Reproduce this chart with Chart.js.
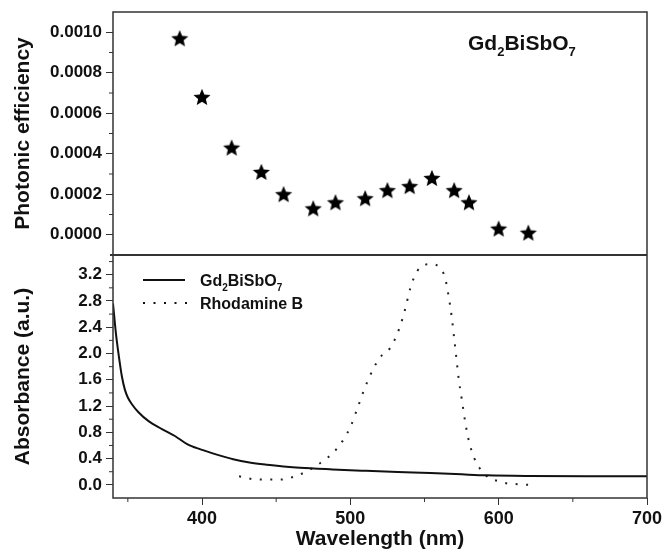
<!DOCTYPE html>
<html>
<head>
<meta charset="utf-8">
<script src="https://cdn.jsdelivr.net/npm/chart.js@4"></script>
<style>
  html, body { margin: 0; padding: 0; background: #fff; }
  #wrap { position: relative; width: 664px; height: 553px; }
</style>
</head>
<body>
<div id="wrap"><canvas id="spectraChart"></canvas></div>
<script>
// top panel: photonic efficiency vs wavelength
const starWavelength = [385, 400, 420, 440, 455, 475, 490, 510, 525, 540, 555, 570, 580, 600, 620];
const photonicEfficiency = [0.00097, 0.00068, 0.00043, 0.00031, 0.00020, 0.00013, 0.00016, 0.00018,
  0.00022, 0.00024, 0.00028, 0.00022, 0.00016, 0.00003, 0.00001];

// bottom panel: absorbance spectra
const gdWavelength = [340, 342, 344, 346, 348, 350, 353, 357, 364, 373, 382, 390, 399, 410, 421, 432,
  444, 455, 466, 488, 509, 532, 554, 575, 592, 620, 660, 700];
const gdAbsorbance = [2.76, 2.30, 1.95, 1.65, 1.45, 1.33, 1.22, 1.11, 0.97, 0.85, 0.74, 0.62, 0.54, 0.46, 0.39, 0.34,
  0.305, 0.28, 0.26, 0.235, 0.215, 0.195, 0.18, 0.16, 0.145, 0.135, 0.13, 0.13];

const rhbWavelength = [425, 438, 452, 465, 479, 492, 500, 505, 510, 516, 520, 527, 533, 537, 540.5, 543,
  547, 554, 561, 564, 566.5, 568.5, 570, 571.5, 573, 575, 577, 579.5, 583.5, 587, 593, 600, 606, 613, 620];
const rhbAbsorbance = [0.13, 0.08, 0.08, 0.15, 0.32, 0.58, 0.88, 1.18, 1.49, 1.79, 1.94, 2.09, 2.38, 2.68, 3.00, 3.16,
  3.31, 3.36, 3.29, 3.14, 2.84, 2.53, 2.23, 1.93, 1.62, 1.32, 1.02, 0.71, 0.41, 0.26, 0.115, 0.055, 0.02, 0.01, 0.0];

// ticks
const xTicks = [400, 500, 600, 700];
const xMinorTicks = [350, 450, 550, 650];
const effTicks = [0, 0.0002, 0.0004, 0.0006, 0.0008, 0.0010];
const effMinorTicks = [0.0001, 0.0003, 0.0005, 0.0007, 0.0009];
const absTicks = [0, 0.4, 0.8, 1.2, 1.6, 2.0, 2.4, 2.8, 3.2];
const absMinorTicks = [0.2, 0.6, 1.0, 1.4, 1.8, 2.2, 2.6, 3.0, 3.4];

const FONT = '"Liberation Sans", Arial, sans-serif';
const gdFormula = [['Gd', false], ['2', true], ['BiSbO', false], ['7', true]];

function makeStar(r) {
  const c = document.createElement('canvas');
  const size = Math.ceil(r * 2 + 2);
  c.width = c.height = size;
  const g = c.getContext('2d');
  g.fillStyle = '#000';
  g.beginPath();
  for (let i = 0; i < 10; i++) {
    const rad = i % 2 ? r * 0.45 : r;
    const a = -Math.PI / 2 + i * Math.PI / 5;
    g.lineTo(size / 2 + rad * Math.cos(a), size / 2 + 0.8 + rad * Math.sin(a));
  }
  g.closePath();
  g.fill();
  return c;
}

function drawFormula(ctx, parts, x, y, size) {
  let cx = x;
  ctx.textAlign = 'left';
  ctx.textBaseline = 'alphabetic';
  parts.forEach(([t, sub]) => {
    const fs = sub ? Math.round(size * 0.62) : size;
    ctx.font = 'bold ' + fs + 'px ' + FONT;
    ctx.fillText(t, cx, sub ? y + size * 0.3 : y);
    cx += ctx.measureText(t).width;
  });
}

const pairs = (xs, ys) => xs.map((x, i) => ({x, y: ys[i]}));

const frameAndLabels = {
  id: 'frameAndLabels',
  afterDraw(chart) {
    const {ctx, chartArea: a, scales} = chart;
    const top = scales.yTop, bot = scales.yBot, x = scales.x;
    ctx.save();
    ctx.strokeStyle = '#333';
    ctx.lineWidth = 1.5;
    ctx.strokeRect(a.left, a.top, a.right - a.left, a.bottom - a.top);
    ctx.lineWidth = 2;
    ctx.beginPath();
    ctx.moveTo(a.left - 3, top.bottom);
    ctx.lineTo(a.right, top.bottom);
    ctx.stroke();

    // minor ticks
    ctx.lineWidth = 1;
    ctx.beginPath();
    xMinorTicks.forEach(v => {
      const px = x.getPixelForValue(v);
      ctx.moveTo(px, a.bottom); ctx.lineTo(px, a.bottom + 4);
    });
    effMinorTicks.forEach(v => {
      const py = top.getPixelForValue(v);
      ctx.moveTo(a.left, py); ctx.lineTo(a.left - 4, py);
    });
    absMinorTicks.forEach(v => {
      const py = bot.getPixelForValue(v);
      ctx.moveTo(a.left, py); ctx.lineTo(a.left - 4, py);
    });
    ctx.stroke();

    // sample label in top panel
    ctx.fillStyle = '#111';
    drawFormula(ctx, gdFormula, a.left + 355, top.top + 38, 21);

    // legend in bottom panel
    const lx = a.left + 30, ly = bot.top + 25;
    ctx.strokeStyle = '#111';
    ctx.lineWidth = 2;
    ctx.beginPath();
    ctx.moveTo(lx, ly); ctx.lineTo(lx + 42, ly);
    ctx.stroke();
    ctx.setLineDash([2, 8.5]);
    ctx.beginPath();
    ctx.moveTo(lx, ly + 23); ctx.lineTo(lx + 44, ly + 23);
    ctx.stroke();
    ctx.setLineDash([]);
    drawFormula(ctx, gdFormula, lx + 57, ly + 6, 16);
    ctx.font = 'bold 16px ' + FONT;
    ctx.fillText('Rhodamine B', lx + 57, ly + 29);
    ctx.restore();
  }
};

const tickGrid = { drawOnChartArea: false, drawTicks: true, tickLength: 7, color: '#333', lineWidth: 1 };
const noPad = s => { s.paddingLeft = 0; s.paddingRight = 0; s.paddingTop = 0; s.paddingBottom = 0; };
const setTicks = list => s => { s.ticks = list.map(v => ({value: v})); };
const tickFont = size => ({ family: FONT, size: size, weight: 'bold' });
const titleFont = { family: FONT, size: 21, weight: 'bold' };

new Chart(document.getElementById('spectraChart'), {
  type: 'line',
  data: {
    datasets: [{
      label: 'Photonic efficiency',
      data: pairs(starWavelength, photonicEfficiency),
      yAxisID: 'yTop',
      showLine: false,
      pointStyle: makeStar(9),
      pointRadius: 9
    }, {
      label: 'Gd2BiSbO7',
      data: pairs(gdWavelength, gdAbsorbance),
      yAxisID: 'yBot',
      borderColor: '#111',
      borderWidth: 2,
      pointRadius: 0,
      cubicInterpolationMode: 'monotone'
    }, {
      label: 'Rhodamine B',
      data: pairs(rhbWavelength, rhbAbsorbance),
      yAxisID: 'yBot',
      borderColor: '#222',
      borderWidth: 2,
      borderDash: [2, 8.5],
      pointRadius: 0,
      cubicInterpolationMode: 'monotone'
    }]
  },
  options: {
    responsive: true,
    maintainAspectRatio: false,
    animation: false,
    layout: { padding: { top: 12, right: 17, left: 0, bottom: 0 } },
    plugins: { legend: { display: false }, tooltip: { enabled: false } },
    scales: {
      x: {
        type: 'linear',
        min: 340, max: 700,
        afterBuildTicks: setTicks(xTicks),
        afterFit: s => { noPad(s); s.height = 55; },
        grid: tickGrid,
        border: { display: false },
        ticks: { color: '#111', font: tickFont(18), padding: 3, maxRotation: 0, autoSkip: false },
        title: { display: true, text: 'Wavelength (nm)', color: '#111', font: titleFont,
          padding: { top: 0, bottom: 1 } }
      },
      yBot: {
        type: 'linear',
        position: 'left',
        stack: 'panels',
        stackWeight: 1,
        weight: 0,
        min: -0.2, max: 3.5,
        afterBuildTicks: setTicks(absTicks),
        afterFit: s => { noPad(s); s.width = 113; },
        grid: tickGrid,
        border: { display: false },
        ticks: { color: '#111', font: tickFont(17), padding: 4, autoSkip: false,
          callback: v => v.toFixed(1) },
        title: { display: true, text: 'Absorbance (a.u.)', color: '#111', font: titleFont,
          padding: { top: 11, bottom: 0 } }
      },
      yTop: {
        type: 'linear',
        position: 'left',
        stack: 'panels',
        stackWeight: 1,
        weight: 1,
        min: -0.0001, max: 0.0011,
        afterBuildTicks: setTicks(effTicks),
        afterFit: s => { noPad(s); s.width = 113; },
        grid: tickGrid,
        border: { display: false },
        ticks: { color: '#111', font: tickFont(17), padding: 4, autoSkip: false,
          callback: v => v.toFixed(4) },
        title: { display: true, text: 'Photonic efficiency', color: '#111', font: titleFont,
          padding: { top: 11, bottom: 0 } }
      }
    }
  },
  plugins: [frameAndLabels]
});
</script>
</body>
</html>
